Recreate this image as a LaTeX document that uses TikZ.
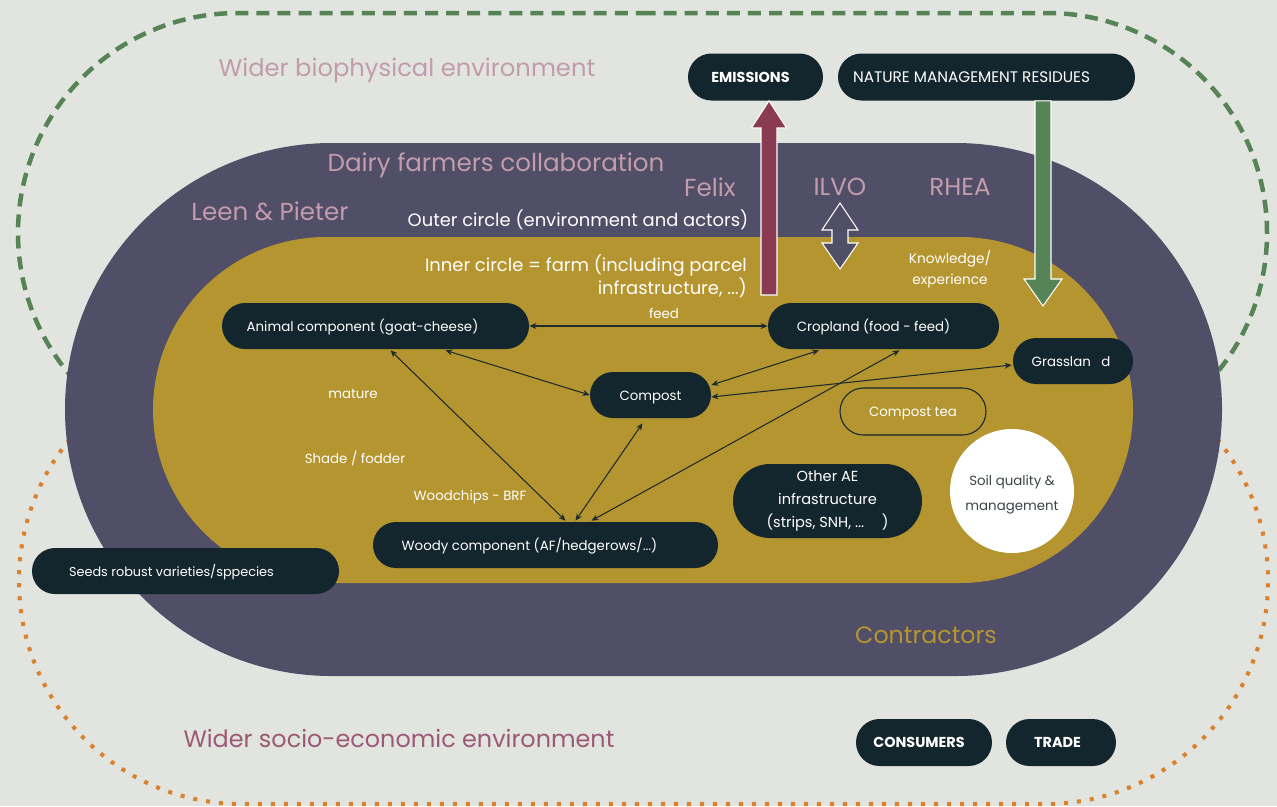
\documentclass[tikz,border=0pt]{standalone}
\usepackage{fontspec}
\setmainfont{Poppins}
\usetikzlibrary{shapes.misc,arrows.meta,calc}

\definecolor{bg}{HTML}{E2E5DF}
\definecolor{outerpurple}{HTML}{514E67}
\definecolor{farmgold}{HTML}{B4952F}
\definecolor{nodedark}{HTML}{13262D}
\definecolor{biogreen}{HTML}{568456}
\definecolor{socioorange}{HTML}{D8822F}
\definecolor{labelpink}{HTML}{C29CAD}
\definecolor{sociopink}{HTML}{9C5976}
\definecolor{emitred}{HTML}{8A3A51}
\definecolor{linkdark}{HTML}{1E2B2E}
\definecolor{soiltext}{HTML}{3A4548}

\newlength\pxu
\setlength\pxu{0.02cm}

\tikzset{
  sz/.style 2 args={minimum width={#1*0.02cm}, minimum height={#2*0.02cm}},
  zone/.style={rounded rectangle, inner sep=0pt},
  pill/.style={rounded rectangle, fill=nodedark, text=white, inner sep=0pt,
    font=\fontsize{7.6pt}{10pt}\selectfont},
  boldpill/.style={pill, font=\fontsize{8.2pt}{10pt}\selectfont\bfseries},
  % single-line pill text: fixed box so the words sit a little low, pushed left
  lead/.style={text height=8pt, text depth=2pt,
    execute at end node={\hspace*{#1\pxu}}},
  biglabel/.style={text=labelpink, font=\fontsize{13.8pt}{16pt}\selectfont},
  farmlabel/.style={text=white, font=\fontsize{10.2pt}{13pt}\selectfont},
  flowlabel/.style={text=white, font=\fontsize{7.6pt}{10pt}\selectfont},
  link/.style={draw=linkdark, line width=0.6pt,
    {Stealth[length=4pt,width=3.4pt]}-{Stealth[length=4pt,width=3.4pt]}},
  fatarrow/.style={line width=0.6pt, draw=white, line join=miter},
}

\begin{document}
\begin{tikzpicture}[x=0.02cm, y=-0.02cm]
\useasboundingbox (0,0) rectangle (1277,806);
\fill[bg] (0,0) rectangle (1277,806);

% wider environments
\node[zone, sz={1249}{446}, draw=socioorange, line width=2.3pt,
  dash pattern=on 2.3pt off 5.1pt] (socio) at (643.5,581) {};
\node[zone, sz={1249}{440}, draw=biogreen, line width=2.56pt,
  dash pattern=on 7.4pt off 4.6pt] (bio) at (642.5,233) {};

% outer circle and farm
\node[zone, sz={1157}{533}, fill=outerpurple] (outer) at (643.5,409.5) {};
\node[zone, sz={980}{346}, fill=farmgold] (farm) at (643,410) {};

% texts of the rings
\node[biglabel] (biotxt) at (407,70) {Wider biophysical environment};
\node[biglabel, font=\fontsize{14pt}{16pt}\selectfont] (dairy) at (496,165) {Dairy farmers collaboration};
\node[biglabel, font=\fontsize{14pt}{16pt}\selectfont] (felix) at (710,187) {Felix};
\node[biglabel, font=\fontsize{14pt}{16pt}\selectfont] (ilvo) at (840,187) {ILVO};
\node[biglabel, font=\fontsize{14pt}{16pt}\selectfont] (rhea) at (960,187) {RHEA};
\node[biglabel, font=\fontsize{14pt}{16pt}\selectfont] (leen) at (270,211) {Leen \& Pieter};
\node[farmlabel] (outertxt) at (578,220) {Outer circle (environment and actors)};
\node[farmlabel, align=right, anchor=east] (innertxt) at (753,276)
  {Inner circle = farm (including parcel\\infrastructure, ...)};
\node[flowlabel, align=center, font=\fontsize{7.8pt}{12pt}\selectfont] (know) at (950,269)
  {Knowledge/\\experience};
\node[flowlabel] (feed) at (664,313) {feed};
\node[flowlabel] (mature) at (353,394) {mature};
\node[flowlabel] (shade) at (355,458) {Shade / fodder};
\node[flowlabel] (wood) at (470,497) {Woodchips - BRF};
\node[text=farmgold, font=\fontsize{13.5pt}{16pt}\selectfont] (contr) at (926,635) {Contractors};
\node[biglabel, text=sociopink, font=\fontsize{13.6pt}{16pt}\selectfont] (sociotxt) at (399,738) {Wider socio-economic environment};

% components
\node[boldpill, sz={135}{47}, lead=10] (emis) at (755.5,77) {EMISSIONS};
\node[pill, sz={297}{47}, lead=30, font=\fontsize{8.7pt}{11pt}\selectfont] (nmr) at (986.5,77) {NATURE MANAGEMENT RESIDUES};
\node[pill, sz={307}{46}, lead=26] (animal) at (375.5,326) {Animal component (goat-cheese)};
\node[pill, sz={231}{46}, lead=20] (crop) at (883.5,326) {Cropland (food - feed)};
\node[pill, sz={120}{46}, lead=4] (grass) at (1073,361) {Grasslan\hspace{6pt}d};
\node[pill, sz={121}{46}, lead=0] (compost) at (650.5,395) {Compost};
\node[pill, sz={146}{47}, lead=0, fill=none, draw=nodedark, line width=0.6pt] (tea) at (913,411.5) {Compost tea};
\node[pill, sz={189}{74}, align=center, font=\fontsize{8.3pt}{13pt}\selectfont] (other) at (827.5,501)
  {Other AE\\infrastructure\\(strips, SNH, ...\hspace{10pt})};
\node[circle, fill=white, minimum size={124*0.02cm}, inner sep=0pt, align=center,
  text=soiltext, font=\fontsize{7.6pt}{14pt}\selectfont] (soil) at (1012,491)
  {\strut Soil quality \&\\management};
\node[pill, sz={345}{46}, lead=32] (woody) at (545.5,545) {Woody component (AF/hedgerows/...)};
\node[pill, sz={307}{46}, lead=28, font=\fontsize{7.3pt}{10pt}\selectfont] (seeds) at (185.5,571) {Seeds robust varieties/sppecies};
\node[boldpill, sz={136}{47}, lead=10] (cons) at (924,742.5) {CONSUMERS};
\node[boldpill, sz={110}{47}, lead=7] (trade) at (1061,742.5) {TRADE};

% flows between the farm components
\draw[link] (animal.east) -- (crop.west);
\draw[link] ($(animal.south)+(70,1)$) -- (compost.west);
\draw[link] ($(animal.south)+(15,1)$) -- ($(woody.north)+(20,-1)$);
\draw[link] ($(compost.south)+(-8,5)$) -- ($(woody.north)+(30,-1)$);
\draw[link] ($(crop.south)+(16,1)$) -- ($(woody.north)+(46,-1)$);
\draw[link] ($(crop.south west)+(28,1)$) -- ($(compost.east)+(0,-10)$);
\draw[link] ($(grass.west)+(-1,4)$) -- ($(compost.east)+(0,2)$);

% emissions leaving the farm
\coordinate (emittip) at ($(emis.south)+(13.5,0)$);
\coordinate (emitfoot) at (769,295);
\filldraw[fatarrow, fill=emitred]
  ([shift={(-8,0)}]emitfoot) -- ([shift={(-8,27)}]emittip) -- ([shift={(-17.5,27)}]emittip)
  -- (emittip) -- ([shift={(17.5,27)}]emittip) -- ([shift={(8,27)}]emittip)
  -- ([shift={(8,0)}]emitfoot) -- cycle;

% residues entering the farm
\coordinate (restail) at ($(nmr.south)+(56.5,0)$);
\coordinate (restip) at (1043,306);
\filldraw[fatarrow, fill=biogreen]
  ([shift={(-8,0)}]restail) -- ([shift={(-8,-27)}]restip) -- ([shift={(-19,-27)}]restip)
  -- (restip) -- ([shift={(19,-27)}]restip) -- ([shift={(8,-27)}]restip)
  -- ([shift={(8,0)}]restail) -- cycle;

% knowledge exchange with ILVO
\coordinate (ktop) at (840,203);
\coordinate (kbot) at (840,269);
\filldraw[fatarrow, fill=outerpurple]
  (ktop) -- ([shift={(18,27)}]ktop) -- ([shift={(8,27)}]ktop) -- ([shift={(8,-26)}]kbot)
  -- ([shift={(18,-26)}]kbot) -- (kbot) -- ([shift={(-18,-26)}]kbot) -- ([shift={(-8,-26)}]kbot)
  -- ([shift={(-8,27)}]ktop) -- ([shift={(-18,27)}]ktop) -- cycle;
\end{tikzpicture}
\end{document}
